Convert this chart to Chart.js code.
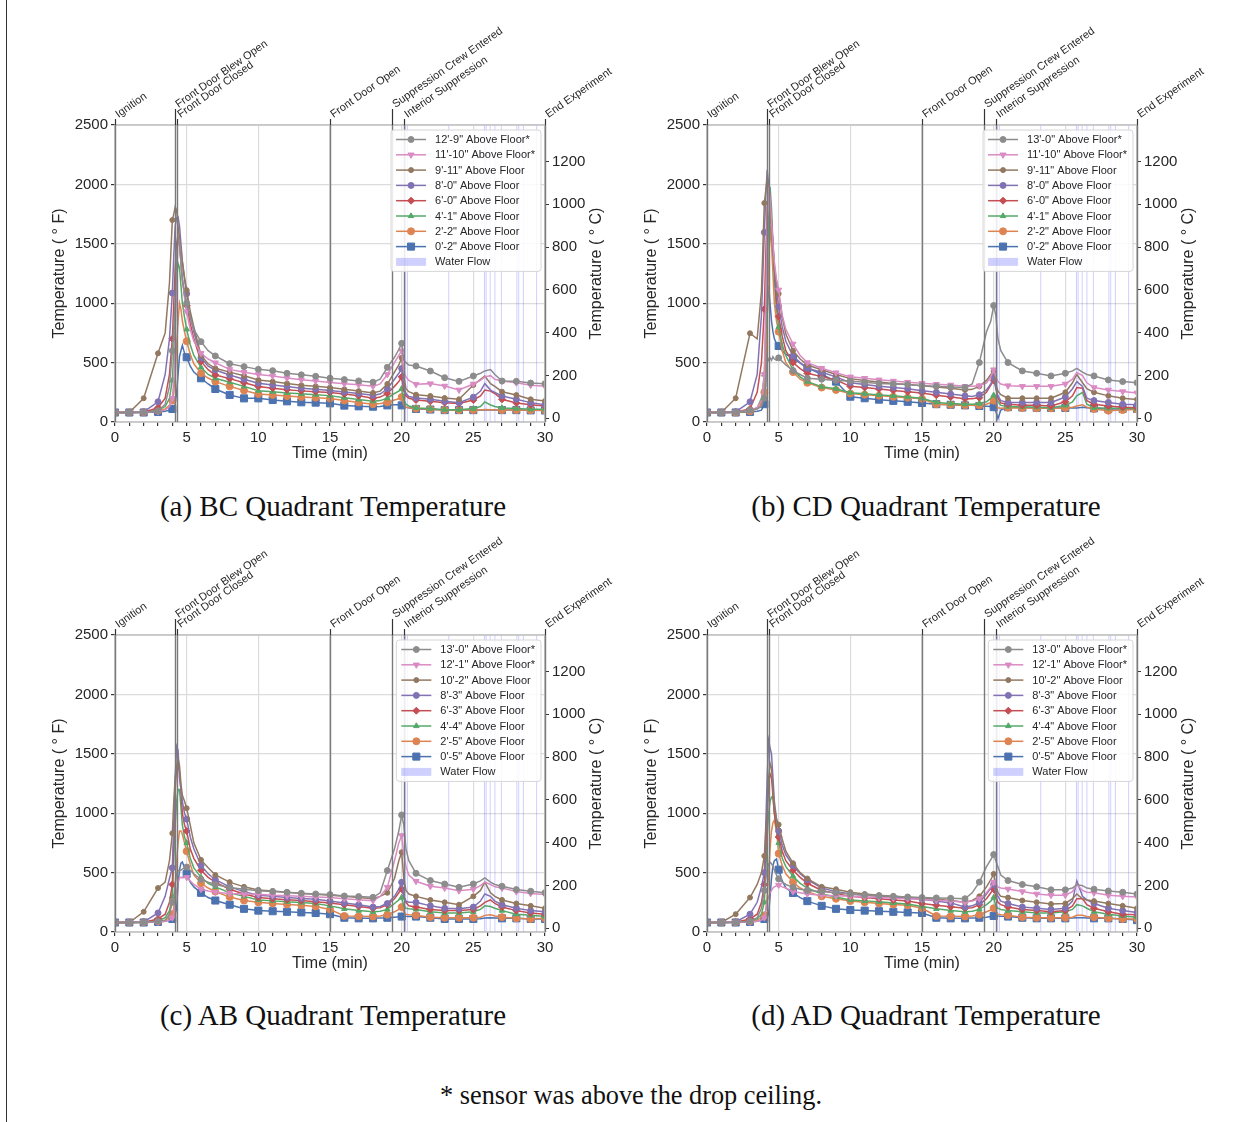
<!DOCTYPE html>
<html><head><meta charset="utf-8">
<script src="https://cdn.jsdelivr.net/npm/chart.js@4.4.1/dist/chart.umd.min.js"></script>
<style>
body{margin:0;background:#fff;}
#page{position:relative;width:1251px;height:1122px;overflow:hidden;background:#fff;}
canvas{position:absolute;}
.cap{position:absolute;width:700px;text-align:center;font-family:"Liberation Serif","Times New Roman",serif;font-size:29px;line-height:34px;color:#111;white-space:nowrap;}
</style></head><body><div id="page">
<div style="position:absolute;left:6px;top:0;width:1px;height:1122px;background:#333"></div>
<canvas id="cA" width="600" height="460" style="left:30px;top:20px"></canvas>
<canvas id="cB" width="600" height="460" style="left:622px;top:20px"></canvas>
<canvas id="cC" width="600" height="460" style="left:30px;top:530px"></canvas>
<canvas id="cD" width="600" height="460" style="left:622px;top:530px"></canvas>
<div class="cap" style="left:-17px;top:489px">(a) BC Quadrant Temperature</div>
<div class="cap" style="left:576px;top:489px">(b) CD Quadrant Temperature</div>
<div class="cap" style="left:-17px;top:998px">(c) AB Quadrant Temperature</div>
<div class="cap" style="left:576px;top:998px">(d) AD Quadrant Temperature</div>
<div class="cap" style="left:281px;top:1079px;font-size:26.3px">* sensor was above the drop ceiling.</div>
</div>
<script>
// ---------------- DATA ----------------
const TIME = [0,1,2,3, 3.5,3.8, 4.0,4.1,4.2,4.3,4.4,4.5,4.6,4.7,4.85, 5,5.25,5.5, 6,6.5,7, 8,9,10,11,12,13,14,15,16,17,18, 18.5,19,19.5,19.8, 20,20.15,20.3,20.5, 21,22,23,24,25, 25.5,25.8,26.2,26.5, 27,28,29,30];

// (a) BC quadrant, deg F
const aGray   = [80,80,82,95, 150,300, 600,800,1000,1400,1550,1500,1350,1200,1080, 1000,880,780, 676,600,556, 491,466,443,432,410,397,385,369,357,346,335, 360,460,545,610, 662,520,500,480, 471,429,373,342,387, 410,430,441,400, 345,342,328,323];
const aPink   = [80,80,82,90, 100,130, 200,350,700,1200,1560,1500,1350,1200,1050, 930,780,680, 578,530,499, 443,418,400,387,370,355,345,332,322,313,300, 320,400,500,560, 600,420,380,350, 317,323,303,270,320, 350,380,390,360, 345,330,310,300];
const aBrown  = [80,80,200,578, 750,1170, 1700,1750,1812,1780,1650,1550,1450,1350,1220, 1110,930,800, 560,490,452, 420,390,354,340,325,310,300,290,275,260,245, 260,320,420,480, 540,380,280,255, 230,219,202,191,311, 360,387,323,300, 255,227,191,177];
const aPurple = [80,80,85,170, 400,700, 1085,1400,1650,1720,1728,1650,1500,1350,1200, 1080,900,760, 540,470,438, 395,360,326,312,298,285,275,265,252,240,225, 235,280,360,410, 450,300,240,215, 202,191,174,163,209, 260,323,269,250, 219,191,163,146];
const aRed    = [80,80,83,120, 200,400, 700,1000,1300,1500,1580,1500,1350,1200,1080, 980,830,700, 510,440,396, 365,330,298,285,272,262,255,248,235,220,200, 210,240,300,340, 380,260,220,200, 185,174,163,155,185, 220,269,260,240, 191,160,146,135];
const aGreen  = [80,80,82,100, 130,200, 350,600,900,1200,1336,1300,1150,1000,880, 780,650,560, 460,400,368, 335,300,264,255,245,237,230,222,205,190,175, 180,200,240,260, 280,180,150,135, 118,113,104,104,113, 130,169,143,130, 118,113,107,107];
const aOrange = [80,80,82,95, 110,140, 180,250,400,650,850,1000,950,850,760, 680,570,490, 410,370,340, 300,265,236,228,218,210,205,198,180,165,150, 155,165,185,195, 210,140,125,120, 113,108,102,100,100, 102,105,103,102, 100,100,98,98];
const aBlue   = [80,80,80,85, 90,100, 110,120,150,250,400,550,600,645,580, 545,470,420, 368,320,278, 228,199,199,185,174,166,163,157,138,132,129, 130,140,145,145, 140,130,125,120, 110,105,100,100,100, 100,102,102,100, 100,100,98,97];

// (b) CD quadrant, deg F
const bGray   = [80,80,82,100, 110,130, 200,350,550,520,540,520,550,530,520, 540,510,480, 433,400,368, 360,350,345,335,325,320,315,306,300,295,290, 320,500,760,850, 980,900,700,600, 500,430,410,388,410, 430,452,420,400, 388,354,340,331];
const bPink   = [80,80,82,100, 120,180, 400,1000,1700,1950,1900,1700,1500,1350,1200, 1112,900,780, 657,560,500, 452,415,380,368,355,345,335,326,318,312,300, 300,305,330,380, 440,380,340,320, 306,300,300,300,320, 360,416,390,330, 290,270,256,245];
const bBrown  = [80,80,200,747, 700,1100, 1843,1950,2053,1950,1800,1600,1450,1300,1180, 1079,880,740, 600,530,480, 440,400,365,350,337,325,315,305,295,285,270, 275,300,350,400, 430,320,260,230, 200,200,200,200,250, 330,400,330,280, 250,220,200,190];
const bPurple = [80,80,85,170, 400,900, 1596,1900,2124,2000,1800,1650,1500,1300,1100, 972,800,680, 556,500,452, 418,380,330,315,300,290,280,264,250,235,220, 215,230,270,320, 380,280,220,180, 165,165,165,165,210, 280,340,300,200, 180,165,150,145];
const bRed    = [80,80,85,110, 250,500, 950,1400,1800,1990,1850,1700,1500,1300,1000, 888,720,600, 500,450,410, 382,354,300,290,278,265,255,245,225,210,195, 195,205,250,310, 350,300,200,160, 150,140,140,135,170, 220,290,285,180, 150,135,125,120];
const bGreen  = [80,80,82,95, 120,200, 400,800,1200,1700,1980,1800,1500,1200,950, 800,650,560, 440,380,340, 297,280,247,238,228,220,210,200,165,155,150, 150,155,170,200, 225,200,170,140, 130,128,125,120,140, 170,220,250,150, 120,115,115,112];
const bOrange = [80,80,80,90, 110,150, 250,500,900,1300,1650,1500,1250,1000,850, 760,600,500, 420,360,330, 290,270,240,230,222,212,205,195,150,145,140, 140,140,150,165, 180,150,120,115, 120,118,115,115,118, 125,135,145,125, 110,95,100,105];
const bBlue   = [80,80,80,85, 90,100, 150,300,900,1150,1000,850,760,700,660, 640,600,570, 540,495,455, 402,340,213,200,188,178,170,160,150,145,140, 140,135,132,130, 125,90,30,100, 125,122,120,118,118, 118,118,125,120, 115,110,110,110];

// (c) AB quadrant, deg F
const cGray   = [80,80,82,90, 100,150, 250,300,400,490,520,513,520,530,540, 547,520,490, 443,420,400, 375,360,348,340,334,326,320,315,303,298,292, 330,517,700,850, 985,900,700,600, 494,433,404,376,404, 430,455,420,400, 385,357,343,331];
const cPink   = [80,80,82,85, 90,100, 120,150,250,350,420,457,460,455,460, 460,430,400, 360,345,335, 325,320,318,310,305,300,295,290,280,272,264, 300,376,600,750, 812,650,550,480, 427,385,370,348,360, 390,420,400,380, 370,340,325,315];
const cBrown  = [80,80,170,370, 420,600, 831,1100,1300,1400,1458,1400,1250,1150,1100, 1042,900,750, 607,540,480, 420,380,354,345,335,325,318,310,300,290,280, 300,330,450,600, 671,450,350,320, 300,270,250,230,300, 350,420,330,300, 270,240,220,200];
const cPurple = [80,80,85,160, 300,450, 540,900,1300,1562,1530,1300,1200,1100,1000, 950,800,700, 560,490,440, 380,340,310,300,290,282,275,260,245,230,210, 215,240,300,360, 419,300,260,250, 250,220,200,195,210, 260,320,300,260, 230,200,180,170];
const cRed    = [80,80,83,110, 150,250, 400,800,1200,1380,1400,1350,1200,1000,900, 850,700,620, 520,460,420, 360,320,290,280,272,265,255,245,230,215,200, 205,230,280,330, 362,300,250,220, 210,190,180,180,190, 220,250,270,240, 210,180,160,150];
const cGreen  = [80,80,82,95, 120,180, 300,600,900,1100,1200,1200,1050,900,800, 750,620,540, 460,410,380, 330,300,270,262,255,248,240,220,195,180,170, 175,190,240,270, 290,220,200,195, 190,170,160,160,170, 190,220,215,200, 180,150,140,130];
const cOrange = [80,80,82,90, 100,120, 150,200,400,600,750,850,850,820,750, 680,570,480, 410,370,340, 295,265,250,240,232,225,215,190,135,132,130, 135,145,170,190, 210,170,150,145, 140,125,120,120,120, 125,140,145,135, 125,115,110,115];
const cBlue   = [80,80,80,85, 90,100, 110,120,140,200,400,520,580,590,540, 490,420,380, 330,290,265, 230,195,180,175,170,165,160,150,120,115,115, 118,120,125,128, 130,135,132,130, 130,120,110,110,110, 112,118,120,118, 115,115,110,110];

// (d) AD quadrant, deg F
const dGray   = [80,80,82,90, 120,200, 350,450,530,570,587,575,550,520,480, 447,420,400, 376,360,350, 340,330,320,312,305,300,295,290,287,284,280, 330,420,550,610, 652,600,550,480, 433,400,380,355,355, 370,400,390,370, 360,345,335,320];
const dPink   = [80,80,82,85, 90,100, 120,180,250,300,330,350,370,380,390, 395,380,370, 340,330,320, 310,305,300,295,290,285,280,275,268,260,250, 260,280,330,380, 420,400,380,370, 362,340,320,310,310, 340,400,350,335, 330,310,300,295];
const dBrown  = [80,80,150,290, 400,500, 640,850,1000,1300,1420,1380,1200,1050,950, 904,780,680, 579,500,450, 380,360,335,320,310,300,292,285,275,265,250, 265,300,380,440, 489,400,330,300, 290,265,250,235,240, 280,320,280,270, 260,240,220,200];
const dPurple = [80,80,85,150, 250,380, 500,900,1300,1612,1550,1500,1300,1100,950, 850,730,650, 560,490,440, 370,340,320,310,300,292,285,275,260,245,210, 220,250,320,370, 400,330,300,260, 240,210,200,190,200, 260,430,300,270, 240,200,180,165];
const dRed    = [80,80,83,110, 150,250, 400,700,1000,1250,1331,1300,1150,1000,880, 800,680,600, 520,460,410, 350,325,300,290,280,270,260,240,225,212,200, 205,230,280,330, 360,300,250,230, 210,190,180,170,180, 220,280,280,230, 200,170,150,145];
const dGreen  = [80,80,82,95, 110,150, 250,500,800,1000,1100,1135,1140,1000,850, 750,620,550, 470,410,370, 320,295,270,262,255,245,235,215,195,180,170, 175,190,230,260, 290,220,200,190, 180,170,160,160,170, 190,230,220,200, 170,150,135,125];
const dOrange = [80,80,82,90, 100,120, 140,180,300,500,700,850,920,940,850, 660,560,490, 420,370,340, 300,280,260,250,240,232,225,200,135,132,130, 135,145,170,185, 200,170,150,145, 140,125,120,120,120, 125,140,140,130, 125,115,110,110];
const dBlue   = [80,80,80,85, 90,100, 110,115,120,150,300,450,560,600,615, 525,430,370, 329,290,260, 220,195,185,180,175,170,165,160,120,115,115, 118,120,125,130, 135,140,135,132, 130,120,115,115,115, 118,120,120,118, 115,115,110,100];

const NAMES_A = ["12'-9\" Above Floor*","11'-10\" Above Floor*","9'-11\" Above Floor","8'-0\" Above Floor","6'-0\" Above Floor","4'-1\" Above Floor","2'-2\" Above Floor","0'-2\" Above Floor"];
const NAMES_B = ["13'-0\" Above Floor*","11'-10\" Above Floor*","9'-11\" Above Floor","8'-0\" Above Floor","6'-0\" Above Floor","4'-1\" Above Floor","2'-2\" Above Floor","0'-2\" Above Floor"];
const NAMES_CD = ["13'-0\" Above Floor*","12'-1\" Above Floor*","10'-2\" Above Floor","8'-3\" Above Floor","6'-3\" Above Floor","4'-4\" Above Floor","2'-5\" Above Floor","0'-5\" Above Floor"];

const EVENT_TIMES  = [0, 4.17, 4.33, 15.02, 19.3, 20.13, 30];
const EVENT_LABELS = ["Ignition","Front Door Blew Open","Front Door Closed","Front Door Open","Suppression Crew Entered","Interior Suppression","End Experiment"];
const EVENT_LEVEL  = [0,1,0,0,1,0,0];
const WATER_FLOW = [[20.22,20.3],[20.36,20.44],[23.25,23.28],[25.74,25.82],[25.86,25.93],[26.14,26.18],[26.47,26.52],[26.92,26.97],[28.0,28.07],[28.13,28.2],[28.46,28.51],[29.38,29.44]];
const F_TICKS = [0,500,1000,1500,2000,2500];
const C_TICKS = [0,200,400,600,800,1000,1200];
const X_MAX = 30, F_MAX = 2500;

// ---------------- STYLE ----------------
const COLORS = ['#8C8C8C','#DA8BC3','#937860','#8172B3','#C44E52','#55A868','#DD8452','#4C72B0'];
const MARKERS = ['circle','triangle','circle','circle','rectRot','triangle','circle','rect'];
const MARKER_ROT = [0,180,0,0,0,0,0,0];
const MARKER_R = [3,3.5,2.5,3,3.5,3.2,3.5,5];
const FONT = '"Liberation Sans", Arial, Helvetica, sans-serif';
const TXT = '#262626';
const WATER_COLOR = 'rgba(100,100,255,0.3)';

function drawMarker(ctx, i, x, y) {
  const h = Chart.helpers;
  if (h && h.drawPoint) {
    h.drawPoint(ctx, {pointStyle: MARKERS[i], radius: MARKER_R[i], rotation: MARKER_ROT[i], borderWidth: 1}, x, y);
  } else {
    ctx.beginPath(); ctx.arc(x, y, MARKER_R[i], 0, Math.PI*2); ctx.fill();
  }
}

const decor = {
  id: 'decor',
  beforeDatasetsDraw(chart) {
    const {ctx, chartArea: ca, scales: {x}} = chart;
    ctx.save();
    ctx.fillStyle = WATER_COLOR;
    WATER_FLOW.forEach(([t0, t1]) => {
      const x0 = x.getPixelForValue(t0), x1 = x.getPixelForValue(t1);
      ctx.fillRect(x0, ca.top, Math.max(1, x1 - x0), ca.bottom - ca.top);
    });
    ctx.restore();
  },
  afterDatasetsDraw(chart) {
    const {ctx, chartArea: ca, scales: {x}} = chart;
    ctx.save();
    ctx.strokeStyle = '#c4c4c4'; ctx.lineWidth = 1.6;
    ctx.strokeRect(ca.left, ca.top, ca.right - ca.left, ca.bottom - ca.top);
    EVENT_TIMES.forEach((t, i) => {
      const px = Math.round(x.getPixelForValue(t)) + 0.5;
      const topY = ca.top - (EVENT_LEVEL[i] ? 16 : 6);
      ctx.strokeStyle = '#7a7a7a'; ctx.lineWidth = 1.4;
      ctx.beginPath(); ctx.moveTo(px, ca.top); ctx.lineTo(px, ca.bottom); ctx.stroke();
      ctx.strokeStyle = '#333'; ctx.lineWidth = 1.2;
      ctx.beginPath(); ctx.moveTo(px, topY); ctx.lineTo(px, ca.top); ctx.stroke();
      ctx.save();
      ctx.translate(px + 3, topY - 1);
      ctx.rotate(-35 * Math.PI / 180);
      ctx.font = '11px ' + FONT; ctx.fillStyle = TXT;
      ctx.textAlign = 'left'; ctx.textBaseline = 'alphabetic';
      ctx.fillText(EVENT_LABELS[i], 0, 0);
      ctx.restore();
    });
    const ds = chart.data.datasets;
    ctx.font = '11px ' + FONT;
    const labels = ds.map(d => d.label).concat(['Water Flow']);
    const tw = Math.max(...labels.map(l => ctx.measureText(l).width));
    const rowH = 15.3;
    const w = 44 + tw + 6, h = rowH * 8 + 19;
    const bx = ca.right - 4 - w, by = ca.top + 5;
    ctx.beginPath();
    if (ctx.roundRect) ctx.roundRect(bx, by, w, h, 3); else ctx.rect(bx, by, w, h);
    ctx.fillStyle = 'rgba(255,255,255,0.85)'; ctx.fill();
    ctx.strokeStyle = '#d6d6d6'; ctx.lineWidth = 1; ctx.stroke();
    labels.forEach((lab, i) => {
      const y = by + 9.5 + i * rowH;
      if (i < ds.length) {
        ctx.strokeStyle = COLORS[i]; ctx.lineWidth = 1.5;
        ctx.beginPath(); ctx.moveTo(bx + 5, y); ctx.lineTo(bx + 35, y); ctx.stroke();
        ctx.fillStyle = COLORS[i]; ctx.strokeStyle = COLORS[i]; ctx.lineWidth = 1;
        drawMarker(ctx, i, bx + 20, y);
      } else {
        ctx.fillStyle = WATER_COLOR; ctx.fillRect(bx + 5, y - 4, 30, 8);
      }
      ctx.fillStyle = TXT; ctx.textAlign = 'left'; ctx.textBaseline = 'middle';
      ctx.font = '11px ' + FONT;
      ctx.fillText(lab, bx + 44, y + 0.5);
    });
    ctx.font = '16px ' + FONT; ctx.fillStyle = TXT;
    ctx.textAlign = 'center'; ctx.textBaseline = 'middle';
    const midY = (ca.top + ca.bottom) / 2;
    ctx.fillText('Time (min)', (ca.left + ca.right) / 2, ca.bottom + 32);
    ctx.save(); ctx.translate(ca.left - 55, midY); ctx.rotate(-Math.PI / 2);
    ctx.fillText('Temperature ( \u00B0 F)', 0, 0); ctx.restore();
    ctx.save(); ctx.translate(ca.right + 52, midY); ctx.rotate(-Math.PI / 2);
    ctx.fillText('Temperature ( \u00B0 C)', 0, 0); ctx.restore();
    ctx.restore();
  }
};

function makeChart(id, names, series) {
  series.forEach((s, i) => { if (s.length !== TIME.length) throw new Error(id + ' series ' + i + ' has ' + s.length); });
  const datasets = series.map((vals, i) => ({
    label: names[i],
    data: TIME.map((t, k) => ({x: t, y: vals[k]})),
    borderColor: COLORS[i], backgroundColor: COLORS[i],
    borderWidth: 1.5, tension: 0,
    pointStyle: MARKERS[i], pointRotation: MARKER_ROT[i],
    pointRadius: c => (c.raw && Number.isInteger(c.raw.x)) ? MARKER_R[i] : 0,
    pointHoverRadius: 0,
    pointBackgroundColor: COLORS[i], pointBorderColor: COLORS[i], pointBorderWidth: 1,
    order: i, xAxisID: 'x', yAxisID: 'y'
  }));
  const tickFont = {family: FONT, size: 15};
  return new Chart(document.getElementById(id), {
    type: 'line',
    data: {datasets},
    options: {
      responsive: false, animation: false, devicePixelRatio: 1,
      events: [],
      layout: {padding: {top: 105, left: 0, right: 0, bottom: 0}},
      plugins: {legend: {display: false}, tooltip: {enabled: false}, title: {display: false}},
      scales: {
        x: {
          type: 'linear', position: 'bottom', min: 0, max: X_MAX,
          afterFit: s => { s.height = 58; },
          afterBuildTicks: s => { s.ticks = Array.from({length: X_MAX + 1}, (_, k) => ({value: k})); },
          ticks: {autoSkip: false, maxRotation: 0, minRotation: 0, padding: 3, font: tickFont, color: TXT,
                  callback: v => (v % 5 === 0 ? String(v) : '')},
          grid: {color: c => (c.tick && c.tick.value % 5 === 0) ? '#dcdcdc' : 'rgba(0,0,0,0)', lineWidth: 1.2,
                 tickColor: '#333', tickLength: 4, drawTicks: true},
          border: {display: false}
        },
        y: {
          type: 'linear', position: 'left', min: 0, max: F_MAX,
          afterFit: s => { s.width = 85; },
          afterBuildTicks: s => { s.ticks = F_TICKS.map(v => ({value: v})); },
          ticks: {padding: 3, font: tickFont, color: TXT, callback: v => String(v)},
          grid: {color: '#dcdcdc', lineWidth: 1.2, tickColor: '#333', tickLength: 4},
          border: {display: false}
        },
        yC: {
          type: 'linear', position: 'right', bounds: 'data',
          min: (0 - 32) / 1.8, max: (F_MAX - 32) / 1.8,
          afterFit: s => { s.width = 85; },
          afterBuildTicks: s => { s.ticks = C_TICKS.map(v => ({value: v})); },
          ticks: {padding: 3, font: tickFont, color: TXT, callback: v => String(v)},
          grid: {drawOnChartArea: false, tickColor: '#333', tickLength: 4},
          border: {display: false}
        }
      }
    },
    plugins: [decor]
  });
}

makeChart('cA', NAMES_A, [aGray, aPink, aBrown, aPurple, aRed, aGreen, aOrange, aBlue]);
makeChart('cB', NAMES_B, [bGray, bPink, bBrown, bPurple, bRed, bGreen, bOrange, bBlue]);
makeChart('cC', NAMES_CD, [cGray, cPink, cBrown, cPurple, cRed, cGreen, cOrange, cBlue]);
makeChart('cD', NAMES_CD, [dGray, dPink, dBrown, dPurple, dRed, dGreen, dOrange, dBlue]);
</script>
</body></html>
